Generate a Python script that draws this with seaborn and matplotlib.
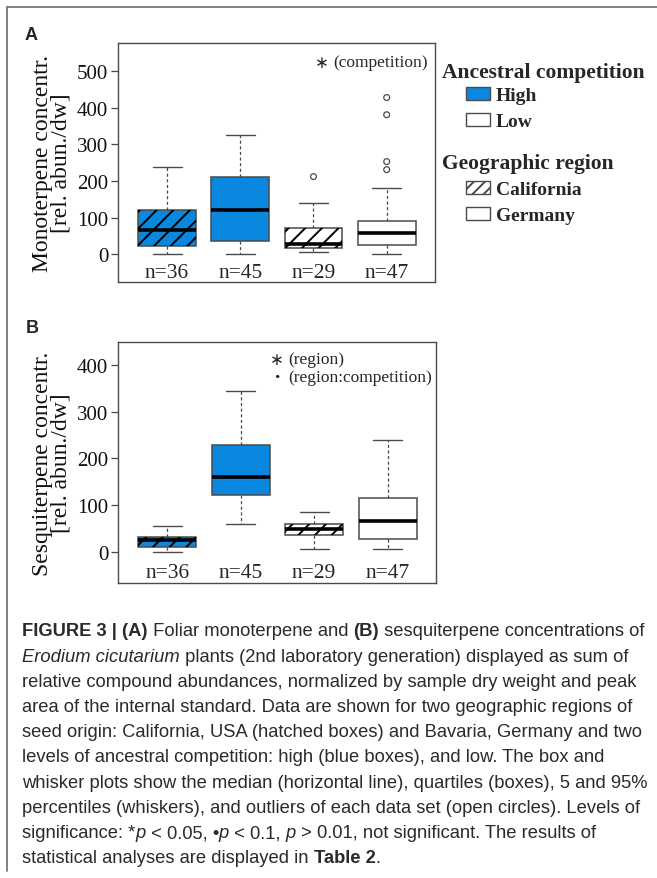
import numpy as np
import pandas as pd
import matplotlib
matplotlib.use("Agg")
import matplotlib.pyplot as plt
from matplotlib.patches import Patch, PathPatch
from matplotlib.lines import Line2D
import seaborn as sns

# ---------------- data ----------------
groups = ["California high", "Germany high", "California low", "Germany low"]
region = ["California", "Germany", "California", "Germany"]
competition = ["High", "High", "Low", "Low"]
n_labels = ["n=36", "n=45", "n=29", "n=47"]

# (A) monoterpenes: lower whisker, Q1, median, Q3, upper whisker
mono_whislo = [0, 0, 7, 0]
mono_q1 = [23, 37, 16, 25]
mono_med = [66, 120, 29, 57]
mono_q3 = [121, 210, 72, 91]
mono_whishi = [238, 325, 140, 180]
mono_out_groups = ["California low", "Germany low", "Germany low", "Germany low", "Germany low"]
mono_out_vals = [212, 428, 381, 253, 231]
mono_ticks = [0, 100, 200, 300, 400, 500]

# (B) sesquiterpenes
sesq_whislo = [0, 59, 6, 5]
sesq_q1 = [9, 122, 36, 27]
sesq_med = [24, 159, 48, 66]
sesq_q3 = [32, 228, 60, 114]
sesq_whishi = [55, 345, 84, 240]
sesq_ticks = [0, 100, 200, 300, 400]

legend_comp = ["High", "Low"]
legend_region = ["California", "Germany"]

caption_lines = [
    [("FIGURE 3 | (A)", "b"), (" Foliar monoterpene and ", "n"), ("(B)", "b"),
     (" sesquiterpene concentrations of", "n")],
    [("Erodium cicutarium", "i"), (" plants (2nd laboratory generation) displayed as sum of", "n")],
    [("relative compound abundances, normalized by sample dry weight and peak", "n")],
    [("area of the internal standard. Data are shown for two geographic regions of", "n")],
    [("seed origin: California, USA (hatched boxes) and Bavaria, Germany and two", "n")],
    [("levels of ancestral competition: high (blue boxes), and low. The box and", "n")],
    [("whisker plots show the median (horizontal line), quartiles (boxes), 5 and 95%", "n")],
    [("percentiles (whiskers), and outliers of each data set (open circles). Levels of", "n")],
    [("significance: *", "n"), ("p", "i"), (" < 0.05, \u2022", "n"), ("p", "i"), (" < 0.1, ", "n"),
     ("p", "i"), (" > 0.01, not significant. The results of", "n")],
    [("statistical analyses are displayed in ", "n"), ("Table 2", "b"), (".", "n")],
]

# ---------------- style ----------------
sns.set_theme(style="white")
plt.rcParams["font.family"] = ["Liberation Serif", "DejaVu Serif"]
plt.rcParams["hatch.linewidth"] = 1.4

BLUE = "#0A88DF"
EDGE = "#4A4A4A"
W, H = 657, 879
fig = plt.figure(figsize=(W / 100, H / 100), dpi=100)
fig.patch.set_facecolor("white")


def fx(px):
    return px / W


def fy(py):
    return 1 - py / H


def five_num_frame(lo, q1, med, q3, hi):
    rows = []
    for g, a, b, c, d, e in zip(groups, lo, q1, med, q3, hi):
        for v in (a, b, c, d, e):
            rows.append({"group": g, "value": v})
    return pd.DataFrame(rows)


palette = {g: (BLUE if c == "High" else "white") for g, c in zip(groups, competition)}


def draw_panel(ax, df, ticks, ylim, nlab_y, out_groups=None, out_vals=None):
    sns.boxplot(data=df, x="group", y="value", hue="group", order=groups,
                hue_order=groups, palette=palette, legend=False, ax=ax,
                saturation=1, whis=(0, 100), width=0.79, showfliers=False,
                linecolor=EDGE, linewidth=1.1,
                medianprops={"color": "black", "linewidth": 2.6},
                whiskerprops={"linestyle": (0, (2.5, 2)), "linewidth": 0.9},
                capprops={"linewidth": 1.0},
                boxprops={"linewidth": 1.1})
    boxes = [p for p in ax.patches]
    for p, r in zip(boxes, region):
        if r == "California":
            ov = PathPatch(p.get_path(), transform=p.get_transform(),
                           facecolor="none", edgecolor="black", linewidth=0,
                           hatch="//", zorder=2.05)
            ax.add_patch(ov)
    if out_groups is not None:
        sns.stripplot(x=out_groups, y=out_vals, order=groups, jitter=False, ax=ax,
                      facecolor="none", edgecolor=EDGE, linewidth=0.9, size=4.2,
                      zorder=3)
    for i, lab in enumerate(n_labels):
        ax.text(i, nlab_y, lab, ha="center", va="center", fontsize=15.5)
    ax.set_xlim(-0.67, 3.66)
    ax.set_ylim(*ylim)
    ax.set_yticks(ticks)
    ax.set_yticklabels([str(t) for t in ticks], fontsize=15)
    ax.set_xticks([])
    ax.set_xlabel("")
    ax.set_ylabel("")
    ax.tick_params(axis="y", which="both", left=True, length=5, width=0.9,
                   color=EDGE, pad=2, labelcolor="#111111")
    for s in ax.spines.values():
        s.set_color(EDGE)
        s.set_linewidth(1.0)


# panel A
wA = 435 - 118
hA = 283 - 44
axA = fig.add_axes([fx(118), fy(283), wA / W, hA / H])
dfA = five_num_frame(mono_whislo, mono_q1, mono_med, mono_q3, mono_whishi)
draw_panel(axA, dfA, mono_ticks, (-76, 577), -49, mono_out_groups, mono_out_vals)
axA.set_ylabel("Monoterpene concentr.\n[rel. abun./dw]", fontsize=17, linespacing=0.85,
               labelpad=4, color="#111111")
axA.text((322 - 118) / wA, (283 - 63) / hA, "\u2217",
         transform=axA.transAxes, ha="center", va="center", fontsize=12,
         family=["DejaVu Sans"])
axA.text((333 - 118) / wA, (283 - 63) / hA, "(competition)",
         transform=axA.transAxes, ha="left", va="center", fontsize=12.5)

# panel B
wB = 436 - 118
hB = 584 - 343
axB = fig.add_axes([fx(118), fy(584), wB / W, hB / H])
dfB = five_num_frame(sesq_whislo, sesq_q1, sesq_med, sesq_q3, sesq_whishi)
draw_panel(axB, dfB, sesq_ticks, (-67.5, 449), -44)
axB.set_ylabel("Sesquiterpene concentr.\n[rel. abun./dw]", fontsize=17, linespacing=0.85,
               labelpad=4, color="#111111")
axB.text((277 - 118) / wB, (584 - 360) / hB, "\u2217", transform=axB.transAxes,
         ha="center", va="center", fontsize=12, family=["DejaVu Sans"])
axB.text((288 - 118) / wB, (584 - 360) / hB, "(region)", transform=axB.transAxes,
         ha="left", va="center", fontsize=12.5)
axB.text((277 - 118) / wB, (584 - 378) / hB, "\u00b7", transform=axB.transAxes,
         ha="center", va="center", fontsize=16, fontweight="bold")
axB.text((288 - 118) / wB, (584 - 378) / hB, "(region:competition)", transform=axB.transAxes,
         ha="left", va="center", fontsize=12.5)

# panel letters
fig.text(fx(25), fy(35), "A", ha="left", va="center", fontsize=13, fontweight="bold",
         family=["Liberation Sans"])
fig.text(fx(26), fy(329), "B", ha="left", va="center", fontsize=13, fontweight="bold",
         family=["Liberation Sans"])

# legends
fig.text(fx(442), fy(73), "Ancestral competition", ha="left", va="center",
         fontsize=15.5, fontweight="bold")
fig.text(fx(442), fy(164), "Geographic region", ha="left", va="center",
         fontsize=15.5, fontweight="bold")
h1 = [Patch(facecolor=BLUE, edgecolor=EDGE, linewidth=1.0),
      Patch(facecolor="white", edgecolor=EDGE, linewidth=1.0)]
h2 = [Patch(facecolor="white", edgecolor=EDGE, linewidth=1.0, hatch="///"),
      Patch(facecolor="white", edgecolor=EDGE, linewidth=1.0)]
leg_kw = dict(loc="upper left", frameon=False, handlelength=1.25, handleheight=0.65,
              handletextpad=0.3, labelspacing=0.45, borderpad=0, borderaxespad=0,
              prop={"family": "Liberation Serif", "weight": "bold", "size": 14})
leg1 = fig.legend(h1, legend_comp, bbox_to_anchor=(fx(466), fy(88)), **leg_kw)
leg2 = fig.legend(h2, legend_region, bbox_to_anchor=(fx(466), fy(182)), **leg_kw)

# frame lines
fig.add_artist(Line2D([fx(7), fx(657)], [fy(8), fy(8)], color="#777777", lw=1.3))
fig.add_artist(Line2D([fx(7), fx(7)], [fy(8), fy(872)], color="#777777", lw=1.3))

# caption with mixed styles
renderer = fig.canvas.get_renderer()
CAP_FAMILY = ["Liberation Sans", "DejaVu Sans"]
style_kw = {"n": {}, "b": {"fontweight": "bold"}, "i": {"fontstyle": "italic"}}


def run_width(text, size, style):
    t = fig.text(0, 0, "|" + text + "|", fontsize=size, family=CAP_FAMILY, **style_kw[style])
    t2 = fig.text(0, 0, "||", fontsize=size, family=CAP_FAMILY, **style_kw[style])
    w = t.get_window_extent(renderer).width - t2.get_window_extent(renderer).width
    t.remove()
    t2.remove()
    return w


base = 12.0
w1 = sum(run_width(t, base, s) for t, s in caption_lines[0])
cap_size = base * (645 - 22) / w1
x0 = 22
y0 = 631
dy = 25.2
for li, runs in enumerate(caption_lines):
    x = x0
    yb = y0 + li * dy + 5.5
    for text, s in runs:
        fig.text(fx(x), fy(yb), text, ha="left", va="baseline", fontsize=cap_size,
                 family=CAP_FAMILY, color="#2a2a2a", **style_kw[s])
        x += run_width(text, cap_size, s)

fig.savefig("out.png", dpi=100, facecolor="white")
